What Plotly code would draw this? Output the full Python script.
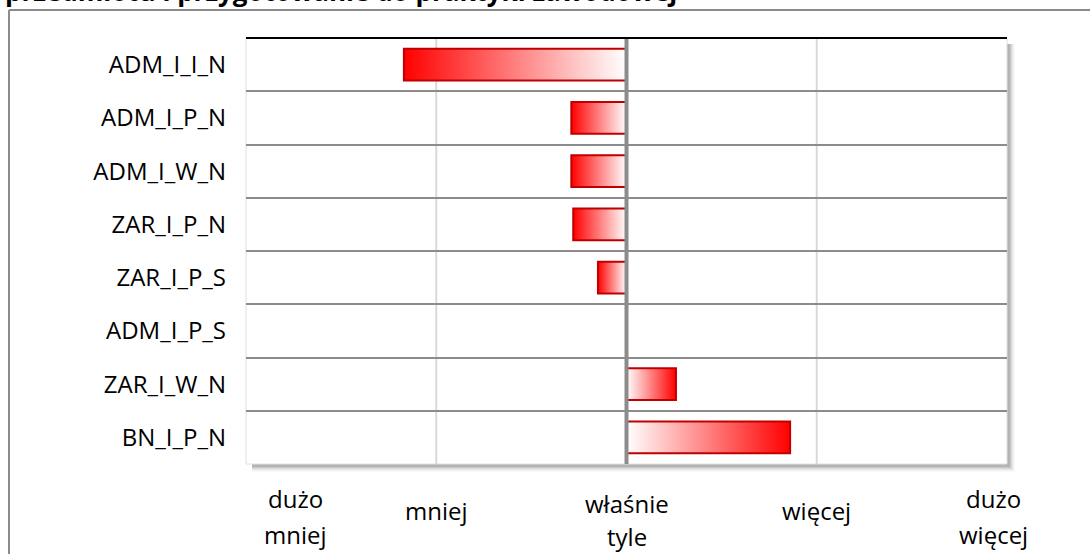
import plotly.graph_objects as go

# ---- data ----
categories = ["ADM_I_I_N", "ADM_I_P_N", "ADM_I_W_N", "ZAR_I_P_N",
              "ZAR_I_P_S", "ADM_I_P_S", "ZAR_I_W_N", "BN_I_P_N"]
values = [-1.17, -0.29, -0.29, -0.28, -0.15, 0.0, 0.26, 0.86]
scale_labels = ["dużo\nmniej", "mniej", "właśnie\ntyle", "więcej", "dużo\nwięcej"]
scale_label_x = [-1.74, -1.0, 0.0, 1.0, 1.93]
title_text = "przedmiotu i przygotowanie do praktyki zawodowej"

# ---- geometry / style ----
W, H = 1090, 554
L, R, T, B = 246, 1007, 38, 464
BAR_HALF = 0.30
FONT = "Open Sans"
RED = "#ff0000"
EDGE = "#c00000"

def pxx(p):
    return (p - L) / (R - L)

def pxy(p):
    return (B - p) / (B - T)

fig = go.Figure()

for i, (cat, v) in enumerate(zip(categories, values)):
    if v == 0:
        continue
    xs = [0, v, v, 0, 0]
    ys = [i - BAR_HALF, i - BAR_HALF, i + BAR_HALF, i + BAR_HALF, i - BAR_HALF]
    cs = [[0, RED], [1, "#ffffff"]] if v < 0 else [[0, "#ffffff"], [1, RED]]
    fig.add_trace(go.Scatter(
        x=xs, y=ys, mode="lines", fill="toself",
        fillgradient=dict(type="horizontal", colorscale=cs),
        line=dict(color=EDGE, width=2),
        name=cat, showlegend=False, hoverinfo="skip",
    ))

shapes = []
# outer border (top + left)
shapes.append(dict(type="line", xref="paper", yref="paper",
                   x0=pxx(9), x1=pxx(W + 5), y0=pxy(10), y1=pxy(10),
                   line=dict(color="#8c8c8c", width=2)))
shapes.append(dict(type="line", xref="paper", yref="paper",
                   x0=pxx(9), x1=pxx(9), y0=pxy(10), y1=pxy(H + 5),
                   line=dict(color="#8c8c8c", width=2)))
# shadow of plot area
for k, op in enumerate([0.10, 0.08, 0.06, 0.04, 0.03, 0.02]):
    d = k + 1
    shapes.append(dict(type="rect", xref="paper", yref="paper",
                       x0=pxx(L + 6), x1=pxx(R + 2 + d), y0=pxy(B + 2 + d), y1=pxy(T + 6),
                       fillcolor=f"rgba(0,0,0,{op})", line=dict(width=0), layer="below"))
shapes.append(dict(type="rect", xref="paper", yref="paper",
                   x0=0, x1=1, y0=0, y1=1, fillcolor="white",
                   line=dict(color="#e0e0e0", width=1), layer="below"))
# vertical grid lines
for gx in [-1, 1]:
    shapes.append(dict(type="line", xref="x", yref="paper", x0=gx, x1=gx, y0=0, y1=1,
                       line=dict(color="#d9d9d9", width=2), layer="below"))
shapes.append(dict(type="line", xref="x", yref="paper", x0=0, x1=0, y0=0, y1=1,
                   line=dict(color="#8c8c8c", width=4)))
# top black line
shapes.append(dict(type="line", xref="paper", yref="paper", x0=0, x1=1, y0=1, y1=1,
                   line=dict(color="black", width=2)))

annotations = []
for lab, lx in zip(scale_labels, scale_label_x):
    lines = lab.split("\n")
    if len(lines) == 1:
        ys_px = [510]
    elif lab.startswith("dużo"):
        ys_px = [498, 534]
    else:
        ys_px = [503, 536]
    for ln, yp in zip(lines, ys_px):
        annotations.append(dict(x=lx, xref="x", y=pxy(yp), yref="paper",
                                text=ln, showarrow=False, xanchor="center", yanchor="middle",
                                borderpad=0,
                                font=dict(family=FONT, size=24, color="black")))
annotations.append(dict(x=pxx(3), xref="paper", y=pxy(11), yref="paper",
                        text="<b>" + title_text + "</b>", showarrow=False,
                        xanchor="left", yanchor="bottom",
                        font=dict(family=FONT, size=26, color="black")))

fig.update_layout(
    width=W, height=H,
    margin=dict(l=L, r=W - R, t=T, b=H - B),
    paper_bgcolor="white", plot_bgcolor="rgba(0,0,0,0)",
    shapes=shapes, annotations=annotations,
    xaxis=dict(range=[-2, 2], showgrid=False, zeroline=False, showticklabels=False,
               showline=False, fixedrange=True),
    yaxis=dict(range=[len(categories) - 0.5, -0.5], tickvals=list(range(len(categories))),
               ticktext=categories, showgrid=False, zeroline=False, showline=False,
               ticks="", ticklabelstandoff=19,
               tickfont=dict(family=FONT, size=24, color="black"),
               minor=dict(tickvals=[i + 0.5 for i in range(len(categories) - 1)],
                          showgrid=True, gridcolor="#8c8c8c", gridwidth=2, ticks=""),
               fixedrange=True),
)

fig.write_html("out.html", config={"displayModeBar": False},
               post_script="document.body.style.margin='0';document.body.style.padding='0';")
